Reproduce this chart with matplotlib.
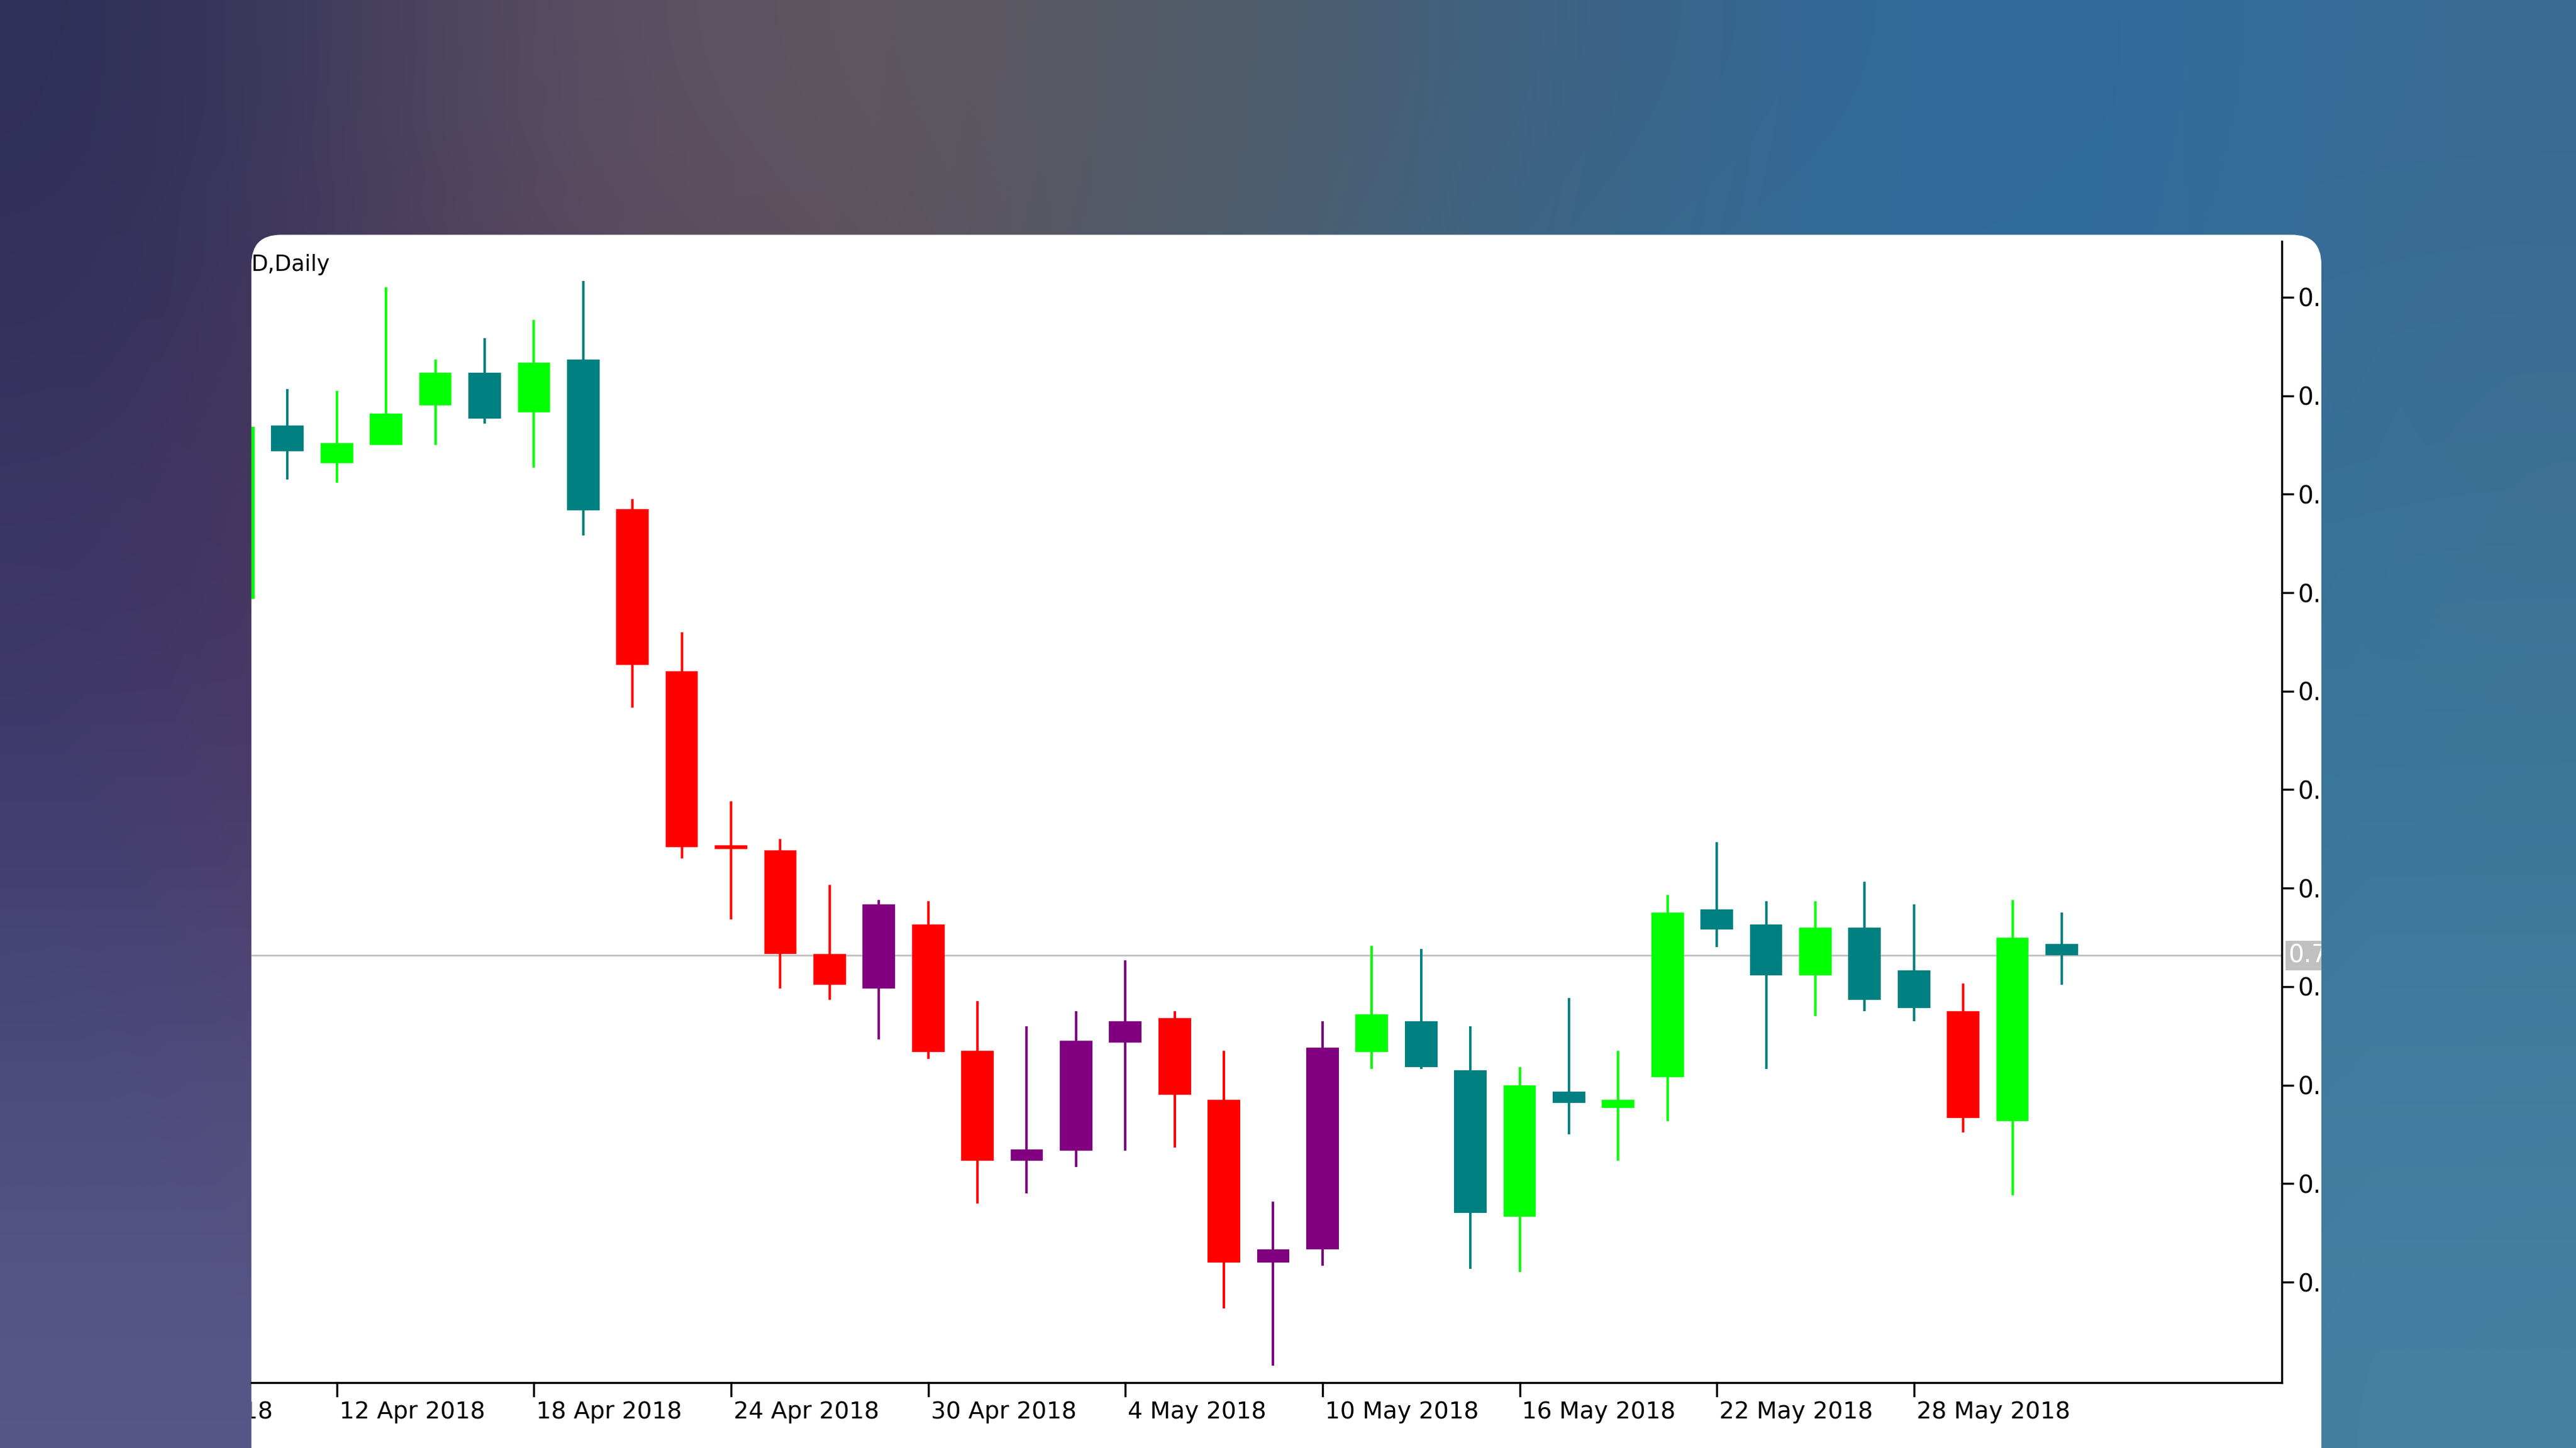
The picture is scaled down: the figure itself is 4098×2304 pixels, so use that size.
import numpy as np
import matplotlib
matplotlib.use("Agg")
import matplotlib.pyplot as plt
from matplotlib.patches import FancyBboxPatch, Rectangle
from matplotlib.transforms import Bbox, TransformedBbox

# daily candles (index 0 is partly hidden at the left edge)
opens = [0.7616, 0.7722, 0.7699, 0.7710, 0.7734, 0.7754, 0.7730, 0.7762, 0.7671, 0.7572,
         0.7466, 0.7463, 0.7400, 0.7430, 0.7418, 0.7341, 0.7281, 0.7347, 0.7359, 0.7361,
         0.7311, 0.7220, 0.7343, 0.7340, 0.7359, 0.7329, 0.7240, 0.7316, 0.7306, 0.7325,
         0.7427, 0.7418, 0.7387, 0.7416, 0.7390, 0.7365, 0.7298, 0.7406]
closes = [0.7721, 0.7706, 0.7711, 0.7729, 0.7754, 0.7726, 0.7760, 0.7670, 0.7576, 0.7465,
          0.7464, 0.7400, 0.7381, 0.7379, 0.7340, 0.7274, 0.7274, 0.7280, 0.7346, 0.7314,
          0.7212, 0.7212, 0.7220, 0.7363, 0.7331, 0.7242, 0.7320, 0.7309, 0.7311, 0.7425,
          0.7415, 0.7387, 0.7416, 0.7372, 0.7367, 0.7300, 0.7410, 0.7399]
highs = [0.7721, 0.7744, 0.7743, 0.7806, 0.7762, 0.7775, 0.7786, 0.7810, 0.7677, 0.7596,
         0.7493, 0.7470, 0.7442, 0.7433, 0.7432, 0.7371, 0.7356, 0.7365, 0.7396, 0.7365,
         0.7341, 0.7249, 0.7359, 0.7405, 0.7403, 0.7356, 0.7331, 0.7373, 0.7341, 0.7436,
         0.7468, 0.7432, 0.7432, 0.7444, 0.7430, 0.7382, 0.7433, 0.7425]
lows = [0.7616, 0.7689, 0.7687, 0.7710, 0.7710, 0.7723, 0.7696, 0.7655, 0.7550, 0.7458,
        0.7421, 0.7379, 0.7372, 0.7348, 0.7336, 0.7248, 0.7254, 0.7270, 0.7280, 0.7282,
        0.7184, 0.7149, 0.7210, 0.7330, 0.7330, 0.7208, 0.7206, 0.7290, 0.7274, 0.7298,
        0.7404, 0.7330, 0.7362, 0.7365, 0.7359, 0.7291, 0.7253, 0.7381]
kinds = "LTLLLTLTRRRRRPRRPPPRRPPLTTLTLLTTLTTRLT"
colors = {"L": "#00ff00", "T": "#008080", "R": "#ff0000", "P": "#800080"}

bid = 0.7399
price_ticks = [0.7800, 0.7740, 0.7680, 0.7620, 0.7560, 0.7500, 0.7440, 0.7380, 0.7320, 0.7260, 0.7200]
date_pos = [-2, 2, 6, 10, 14, 18, 22, 26, 30, 34]
date_labels = ["6 Apr 2018", "12 Apr 2018", "18 Apr 2018", "24 Apr 2018", "30 Apr 2018",
               "4 May 2018", "10 May 2018", "16 May 2018", "22 May 2018", "28 May 2018"]

W, H = 1568, 882
fig = plt.figure(figsize=(4098 / 200, 2304 / 200), dpi=200)

# blurred backdrop, drawn in reference pixel coords
bg = fig.add_axes([0, 0, 1, 1])
bg.set_xlim(0, W)
bg.set_ylim(H, 0)
bg.axis("off")
grid = np.array([
    [[0.18, 0.18, 0.34], [0.36, 0.32, 0.40], [0.38, 0.34, 0.36], [0.30, 0.36, 0.42], [0.22, 0.40, 0.56], [0.18, 0.42, 0.62], [0.22, 0.42, 0.58]],
    [[0.22, 0.20, 0.38], [0.38, 0.24, 0.34], [0.36, 0.32, 0.36], [0.28, 0.38, 0.46], [0.20, 0.44, 0.58], [0.18, 0.42, 0.62], [0.24, 0.44, 0.58]],
    [[0.24, 0.22, 0.42], [0.40, 0.22, 0.34], [0.34, 0.30, 0.38], [0.26, 0.40, 0.50], [0.20, 0.44, 0.60], [0.20, 0.46, 0.62], [0.24, 0.46, 0.60]],
    [[0.28, 0.28, 0.48], [0.38, 0.28, 0.42], [0.32, 0.32, 0.44], [0.26, 0.40, 0.54], [0.22, 0.44, 0.60], [0.22, 0.48, 0.62], [0.26, 0.48, 0.62]],
    [[0.34, 0.34, 0.54], [0.36, 0.34, 0.50], [0.30, 0.36, 0.50], [0.26, 0.42, 0.56], [0.24, 0.46, 0.60], [0.24, 0.50, 0.64], [0.28, 0.50, 0.64]],
])
bg.imshow(grid, extent=(0, W, H, 0), aspect="auto", interpolation="bicubic", zorder=0)
bg.add_patch(FancyBboxPatch((153, 143), 1413 - 153, 800, boxstyle="round,pad=0,rounding_size=18",
                            facecolor="white", edgecolor="none", zorder=1))

panel_clip = TransformedBbox(Bbox([[153 / W, 0], [1413 / W, 1 - 143 / H]]), fig.transFigure)

ax = fig.add_axes([153 / W, 1 - 842 / H, (1389 - 153) / W, (842 - 147) / H])
ax.set_facecolor("none")
ax.set_xlim((153 - 145) / 30, (1389 - 145) / 30)
ax.set_ylim(0.7139, 0.7834)

for i in range(len(opens)):
    c = colors[kinds[i]]
    ax.vlines(i, lows[i], highs[i], color=c, lw=1.4, zorder=2)
    lo, hi = min(opens[i], closes[i]), max(opens[i], closes[i])
    ax.add_patch(Rectangle((i - 0.33, lo), 0.66, max(hi - lo, 0.00015), facecolor=c,
                           edgecolor="none", zorder=3))

ax.axhline(bid, color="#c0c0c0", lw=1.0, zorder=1)

ax.spines["left"].set_visible(False)
ax.spines["top"].set_visible(False)
for s in ["right", "bottom"]:
    ax.spines[s].set_linewidth(1.2)

ax.yaxis.tick_right()
ax.set_yticks(price_ticks)
ax.set_yticklabels([f"{p:.4f}" for p in price_ticks])
ax.tick_params(axis="y", direction="out", length=7, width=1.2, labelsize=14, pad=2)
for lbl in ax.get_yticklabels():
    lbl.set_clip_on(True)
    lbl.set_clip_box(panel_clip)

ax.set_xticks([])
for pos, lab in zip(date_pos, date_labels):
    if pos >= 0:
        ax.plot([pos, pos], [0, -0.012], transform=ax.get_xaxis_transform(), color="black",
                lw=1.2, clip_on=False)
    t = ax.text(pos + 0.05, -0.026, lab, transform=ax.get_xaxis_transform(), ha="left",
                va="center", fontsize=13.5, clip_on=True)
    t.set_clip_box(panel_clip)

t = ax.text(41.6, bid, f"{bid:.4f}", color="white", fontsize=14, va="center", ha="left",
            bbox=dict(facecolor="#c0c0c0", edgecolor="none", pad=1.5), clip_on=True)
t.set_clip_box(panel_clip)

ax.text(0.26, 0.7820, "D,Daily", fontsize=12.5, ha="left", va="center")

fig.savefig("out.png", dpi=200)
